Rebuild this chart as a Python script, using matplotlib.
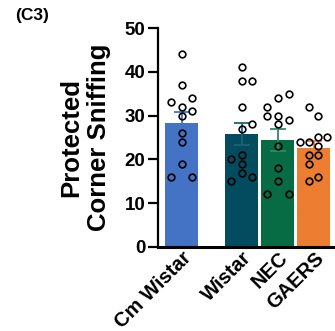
import numpy as np
import matplotlib
matplotlib.use("Agg")
import matplotlib.pyplot as plt

plt.rcParams.update({
    "font.family": ["Liberation Sans", "DejaVu Sans"],
    "font.weight": "bold",
})

groups = ['Cm Wistar', 'Wistar', 'NEC', 'GAERS']
bar_means = [28.4, 25.9, 24.5, 22.7]
bar_sem = [2.4, 2.5, 2.5, 1.4]

cm_wistar = [44, 37, 34, 33, 32, 31, 30, 26, 24, 19, 16, 16]
wistar = [41, 38, 38, 32, 28, 27, 21, 20, 19, 17, 16, 15]
nec = [35, 34, 32, 30, 30, 29, 28, 23, 18, 15, 12, 12]
gaers = [32, 30, 25, 25, 24, 24, 23, 21, 21, 19, 16, 15]
points = [cm_wistar, wistar, nec, gaers]

# horizontal scatter of the dots (layout only)
jitter = [
    [0, 0, 0.3, -0.3, 0, 0.3, 0, 0, 0, 0, -0.3, 0.3],
    [0, 0, 0.3, 0, 0.3, 0, 0, -0.3, 0, 0, 0.3, -0.3],
    [0.3, 0, -0.3, -0.3, 0, 0.3, 0, 0, 0, 0, -0.3, 0.3],
    [-0.125, 0.125, 0.125, 0.375, -0.375, -0.125, 0.125, -0.125, 0.125, -0.125, 0.125, -0.125],
]

xpos = [0, 1.667, 2.667, 3.667]
colors = ['#4472C4', '#034B5E', '#076B43', '#ED7D31']
err_colors = ['#4472C4', '#1B6472', '#2E8B6A', '#ED7D31']

fig = plt.figure(figsize=(3.35, 3.31), dpi=100)
ax = fig.add_axes([0.4716, 0.2538, 0.5224, 0.6616])

ax.bar(xpos, bar_means, width=0.92, color=colors, zorder=1)
for i in range(4):
    ax.errorbar(xpos[i], bar_means[i], yerr=bar_sem[i], color=err_colors[i],
                capsize=6, elinewidth=1.3, capthick=1.3, zorder=2)
    ax.plot(np.array(xpos[i]) + np.array(jitter[i]), points[i], 'o', ms=4.8,
            mfc='none', mec='black', mew=1.2, zorder=3)

ax.set_xlim(-0.653, 4.2)
ax.set_ylim(0, 50)
ax.set_yticks([0, 10, 20, 30, 40, 50])
ax.set_xticks(xpos)
ax.set_xticklabels(groups, rotation=45, ha='right', rotation_mode='anchor',
                   fontsize=14.5, fontweight='bold')
ax.tick_params(axis='x', length=0, pad=1)
ax.tick_params(axis='y', length=7, width=1.6, labelsize=13.5, pad=2)
for lab in ax.get_yticklabels():
    lab.set_fontweight('bold')

ax.spines['top'].set_visible(False)
ax.spines['right'].set_visible(False)
ax.spines['left'].set_linewidth(1.6)
ax.spines['bottom'].set_linewidth(2.2)

ax.set_ylabel('Protected\nCorner Sniffing', fontsize=18.5, fontweight='bold',
              linespacing=1.2, labelpad=10)

fig.text(0.045, 0.975, '(C3)', fontsize=12.5, fontweight='bold', va='top')

fig.savefig('out.png', dpi=100)
